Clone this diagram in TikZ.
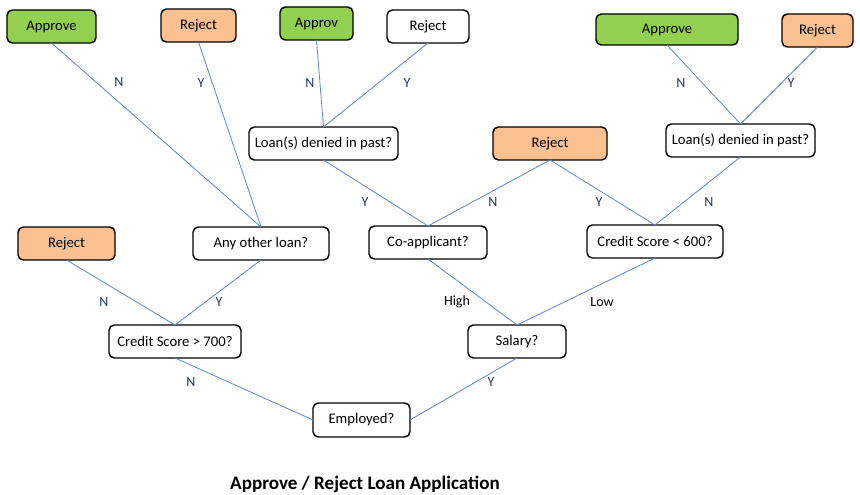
\documentclass[tikz,border=0pt]{standalone}
\usepackage{fontspec}
\setmainfont{Carlito}
\definecolor{gfill}{HTML}{92D050}
\definecolor{ofill}{HTML}{FAC090}
\definecolor{lnc}{HTML}{5B87C5}
\definecolor{lbc}{HTML}{1F3864}
\tikzset{
  box/.style={draw=black, line width=1.1pt, rounded corners=4pt, inner sep=0pt, outer sep=0pt, font=\fontsize{11}{13}\selectfont},
  gbox/.style={box, fill=gfill},
  obox/.style={box, fill=ofill},
  wbox/.style={box, fill=white},
  conn/.style={draw=lnc, line width=0.6pt},
  lab/.style={text=lbc, font=\fontsize{10.5}{12}\selectfont, inner sep=0pt},
  blab/.style={text=black, font=\fontsize{10.5}{12}\selectfont, inner sep=0pt},
}
\newcommand{\mybox}[7]{\node[#6, minimum width={(#4-#2)*0.75pt}, minimum height={(#5-#3)*0.75pt}] (#1) at ({(#2+#4)/2},{(#3+#5)/2}) {#7};}
\begin{document}
\begin{tikzpicture}[x=0.75pt,y=-0.75pt]
\useasboundingbox[fill=white] (0,0) rectangle (860,495);
% top row
\mybox{ap1}{7}{10}{96}{43}{gbox}{Approve}
\mybox{rj1}{161}{9}{236}{42}{obox}{Reject}
\mybox{ap2}{280}{7}{353}{40}{gbox}{Approv}
\mybox{rj2}{387}{10}{469}{43}{wbox}{Reject}
\mybox{ap3}{596}{14}{738}{45}{gbox}{Approve}
\mybox{rj3}{782}{14}{853}{47}{obox}{Reject}
% second row
\mybox{ld1}{249}{127}{398}{160}{wbox}{Loan(s) denied in past?}
\mybox{rj4}{493}{127}{607}{160}{obox}{Reject}
\mybox{ld2}{666}{124}{815}{157}{wbox}{Loan(s) denied in past?}
% third row
\mybox{rj5}{18}{227}{115}{260}{obox}{Reject}
\mybox{aol}{193}{227}{329}{260}{wbox}{Any other loan?}
\mybox{coa}{369}{226}{487}{259}{wbox}{Co-applicant?}
\mybox{cs6}{587}{225}{723}{258}{wbox}{Credit Score < 600?}
% fourth row
\mybox{cs7}{109}{325}{241}{358}{wbox}{Credit Score > 700?}
\mybox{sal}{468}{325}{566}{358}{wbox}{Salary?}
% root
\mybox{emp}{313}{403}{410}{437}{wbox}{Employed?}
% connectors
\draw[conn] (ap1.south) -- (aol.north);
\draw[conn] (rj1.south) -- (aol.north);
\draw[conn] (ap2.south) -- (ld1.north);
\draw[conn] (rj2.south) -- (ld1.north);
\draw[conn] (ap3.south) -- (ld2.north);
\draw[conn] (rj3.south) -- (ld2.north);
\draw[conn] (ld1.south) -- (coa.north);
\draw[conn] (rj4.south) -- (coa.north);
\draw[conn] (rj4.south) -- (cs6.north);
\draw[conn] (ld2.south) -- (cs6.north);
\draw[conn] (rj5.south) -- (cs7.north);
\draw[conn] (aol.south) -- (cs7.north);
\draw[conn] (coa.south) -- (sal.north);
\draw[conn] (cs6.south) -- (sal.north);
\draw[conn] (cs7.south) -- (emp.west);
\draw[conn] (sal.south) -- (emp.east);
% labels
\node[lab] (l1) at (119,82) {N};
\node[lab] (l2) at (201,83) {Y};
\node[lab] (l3) at (310,83) {N};
\node[lab] (l4) at (407,83) {Y};
\node[lab] (l5) at (681,83) {N};
\node[lab] (l6) at (791,83) {Y};
\node[lab] (l7) at (365,202) {Y};
\node[lab] (l8) at (493,202) {N};
\node[lab] (l9) at (599,202) {Y};
\node[lab] (l10) at (709,202) {N};
\node[lab] (l11) at (104,302) {N};
\node[lab] (l12) at (219,302) {Y};
\node[blab] (l13) at (457,302) {High};
\node[blab] (l14) at (602,302) {Low};
\node[lab] (l15) at (191,382) {N};
\node[lab] (l16) at (491,382) {Y};
% title
\node[font=\bfseries\fontsize{14.3}{16}\selectfont, inner sep=0pt] (title) at (365,484) {Approve / Reject Loan Application};
\end{tikzpicture}
\end{document}
